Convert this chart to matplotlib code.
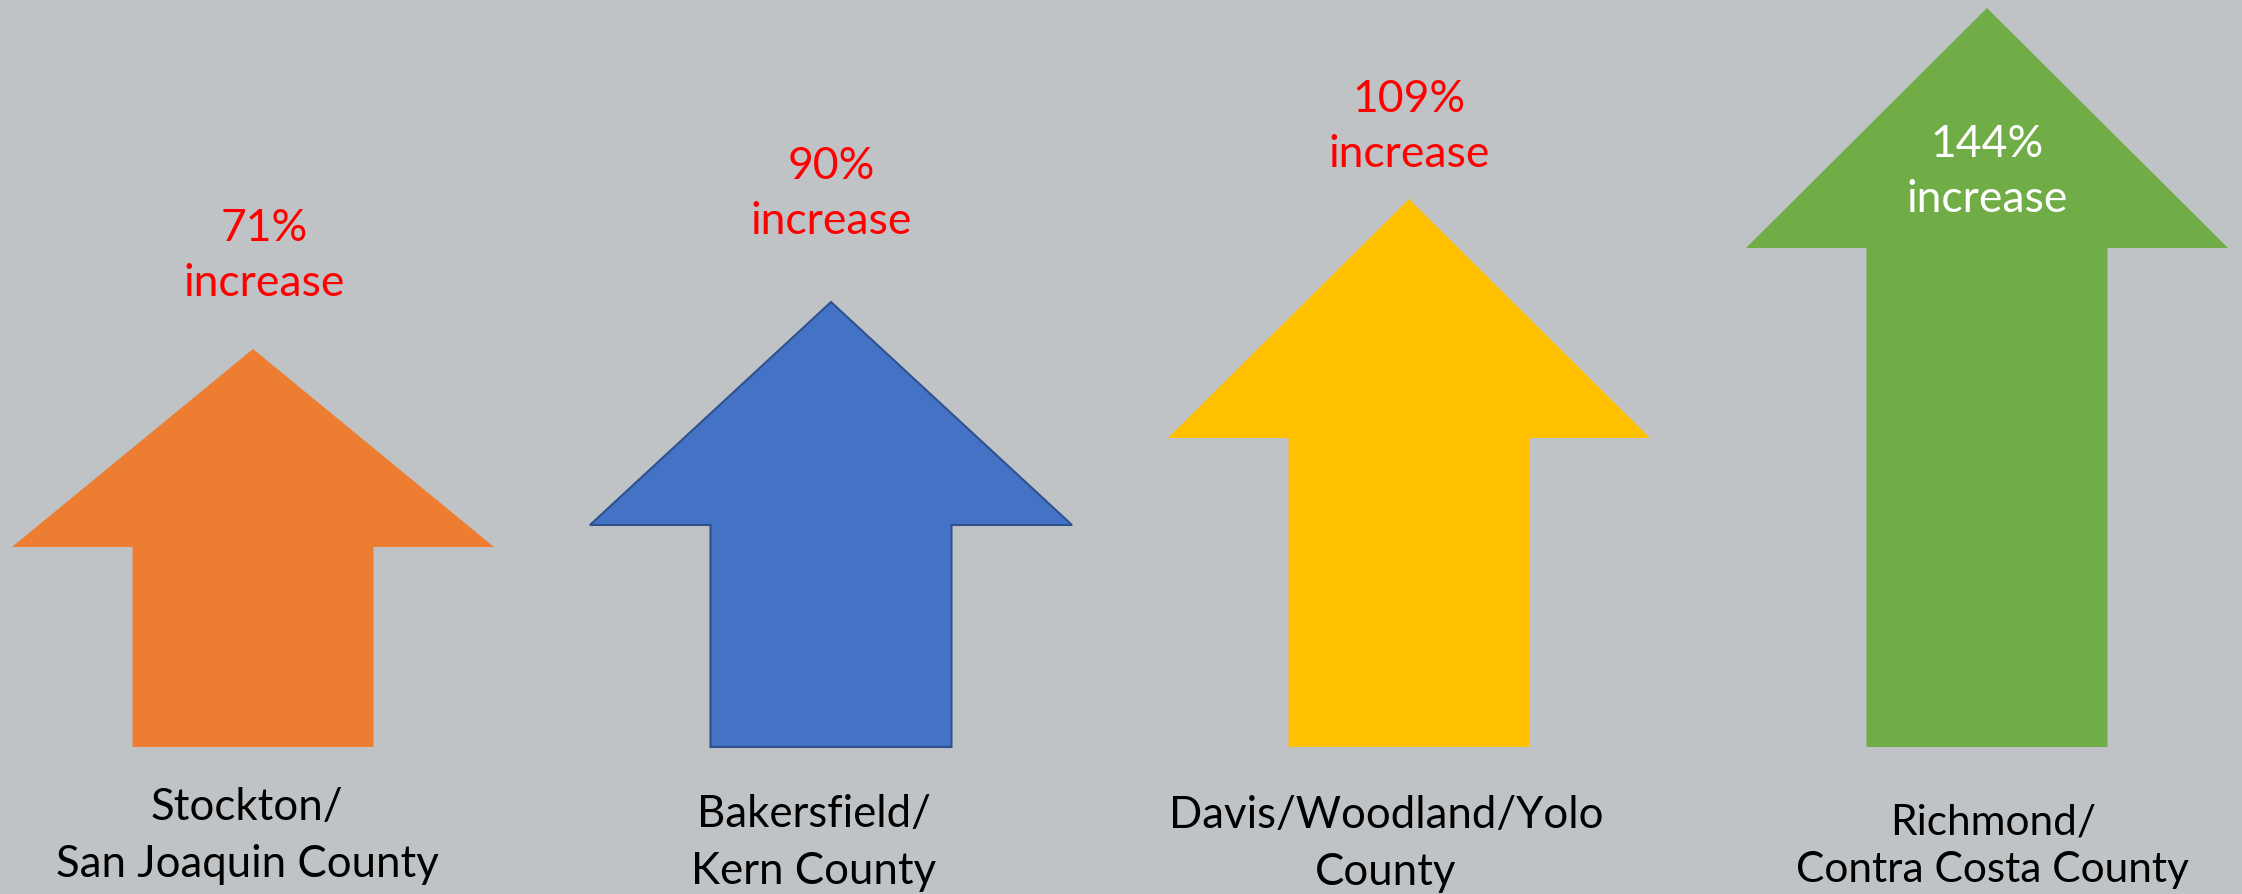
import matplotlib.pyplot as plt

# data
places = ['Stockton/\nSan Joaquin County', 'Bakersfield/\nKern County',
          'Davis/Woodland/Yolo\nCounty', 'Richmond/\nContra Costa County']
pct_increase = [71, 90, 109, 144]
# arrow tip and shoulder heights (picture units above the arrow base)
arrow_tip = [398, 445, 548, 739]
arrow_shoulder = [200, 222, 309, 499]

colors = ['#ED7D31', '#4472C4', '#FFC000', '#70AD47']
edges = ['none', '#2F528F', 'none', 'none']
pct_colors = ['#FF0000', '#FF0000', '#FF0000', '#FFFFFF']
pct_label_y = [492, 554, 621, 576]
pct_label_dx = [0.02, 0, 0, 0]
place_label_y = [-88, -95, -96, -98]
place_label_dx = [-0.01, -0.03, -0.04, 0.01]
place_spacing = [1.5, 1.5, 1.5, 1.3]

bg = '#BFC3C6'
head_half = 0.417
shaft_half = 0.2085

fig = plt.figure(figsize=(22.42, 8.95), dpi=100)
fig.patch.set_facecolor(bg)
ax = fig.add_axes([0, 0, 1, 1])
ax.set_facecolor(bg)
ax.set_xlim(-0.4377, 3.4412)
ax.set_ylim(-147, 748)
ax.axis('off')

for i in range(len(places)):
    xs = [i - shaft_half, i - shaft_half, i - head_half, i,
          i + head_half, i + shaft_half, i + shaft_half]
    ys = [0, arrow_shoulder[i], arrow_shoulder[i], arrow_tip[i],
          arrow_shoulder[i], arrow_shoulder[i], 0]
    ax.fill(xs, ys, facecolor=colors[i], edgecolor=edges[i],
            linewidth=1.5 if edges[i] != 'none' else 0)

    ax.text(i + pct_label_dx[i], pct_label_y[i], f'{pct_increase[i]}%\nincrease',
            ha='center', va='center', color=pct_colors[i], fontsize=32,
            family='Lato', linespacing=1.4)
    ax.text(i + place_label_dx[i], place_label_y[i], places[i],
            ha='center', va='center', color='black',
            fontsize=30.5 if i == 3 else 31.5,
            family='Lato', linespacing=place_spacing[i])

fig.savefig('out.png', dpi=100, facecolor=bg)
